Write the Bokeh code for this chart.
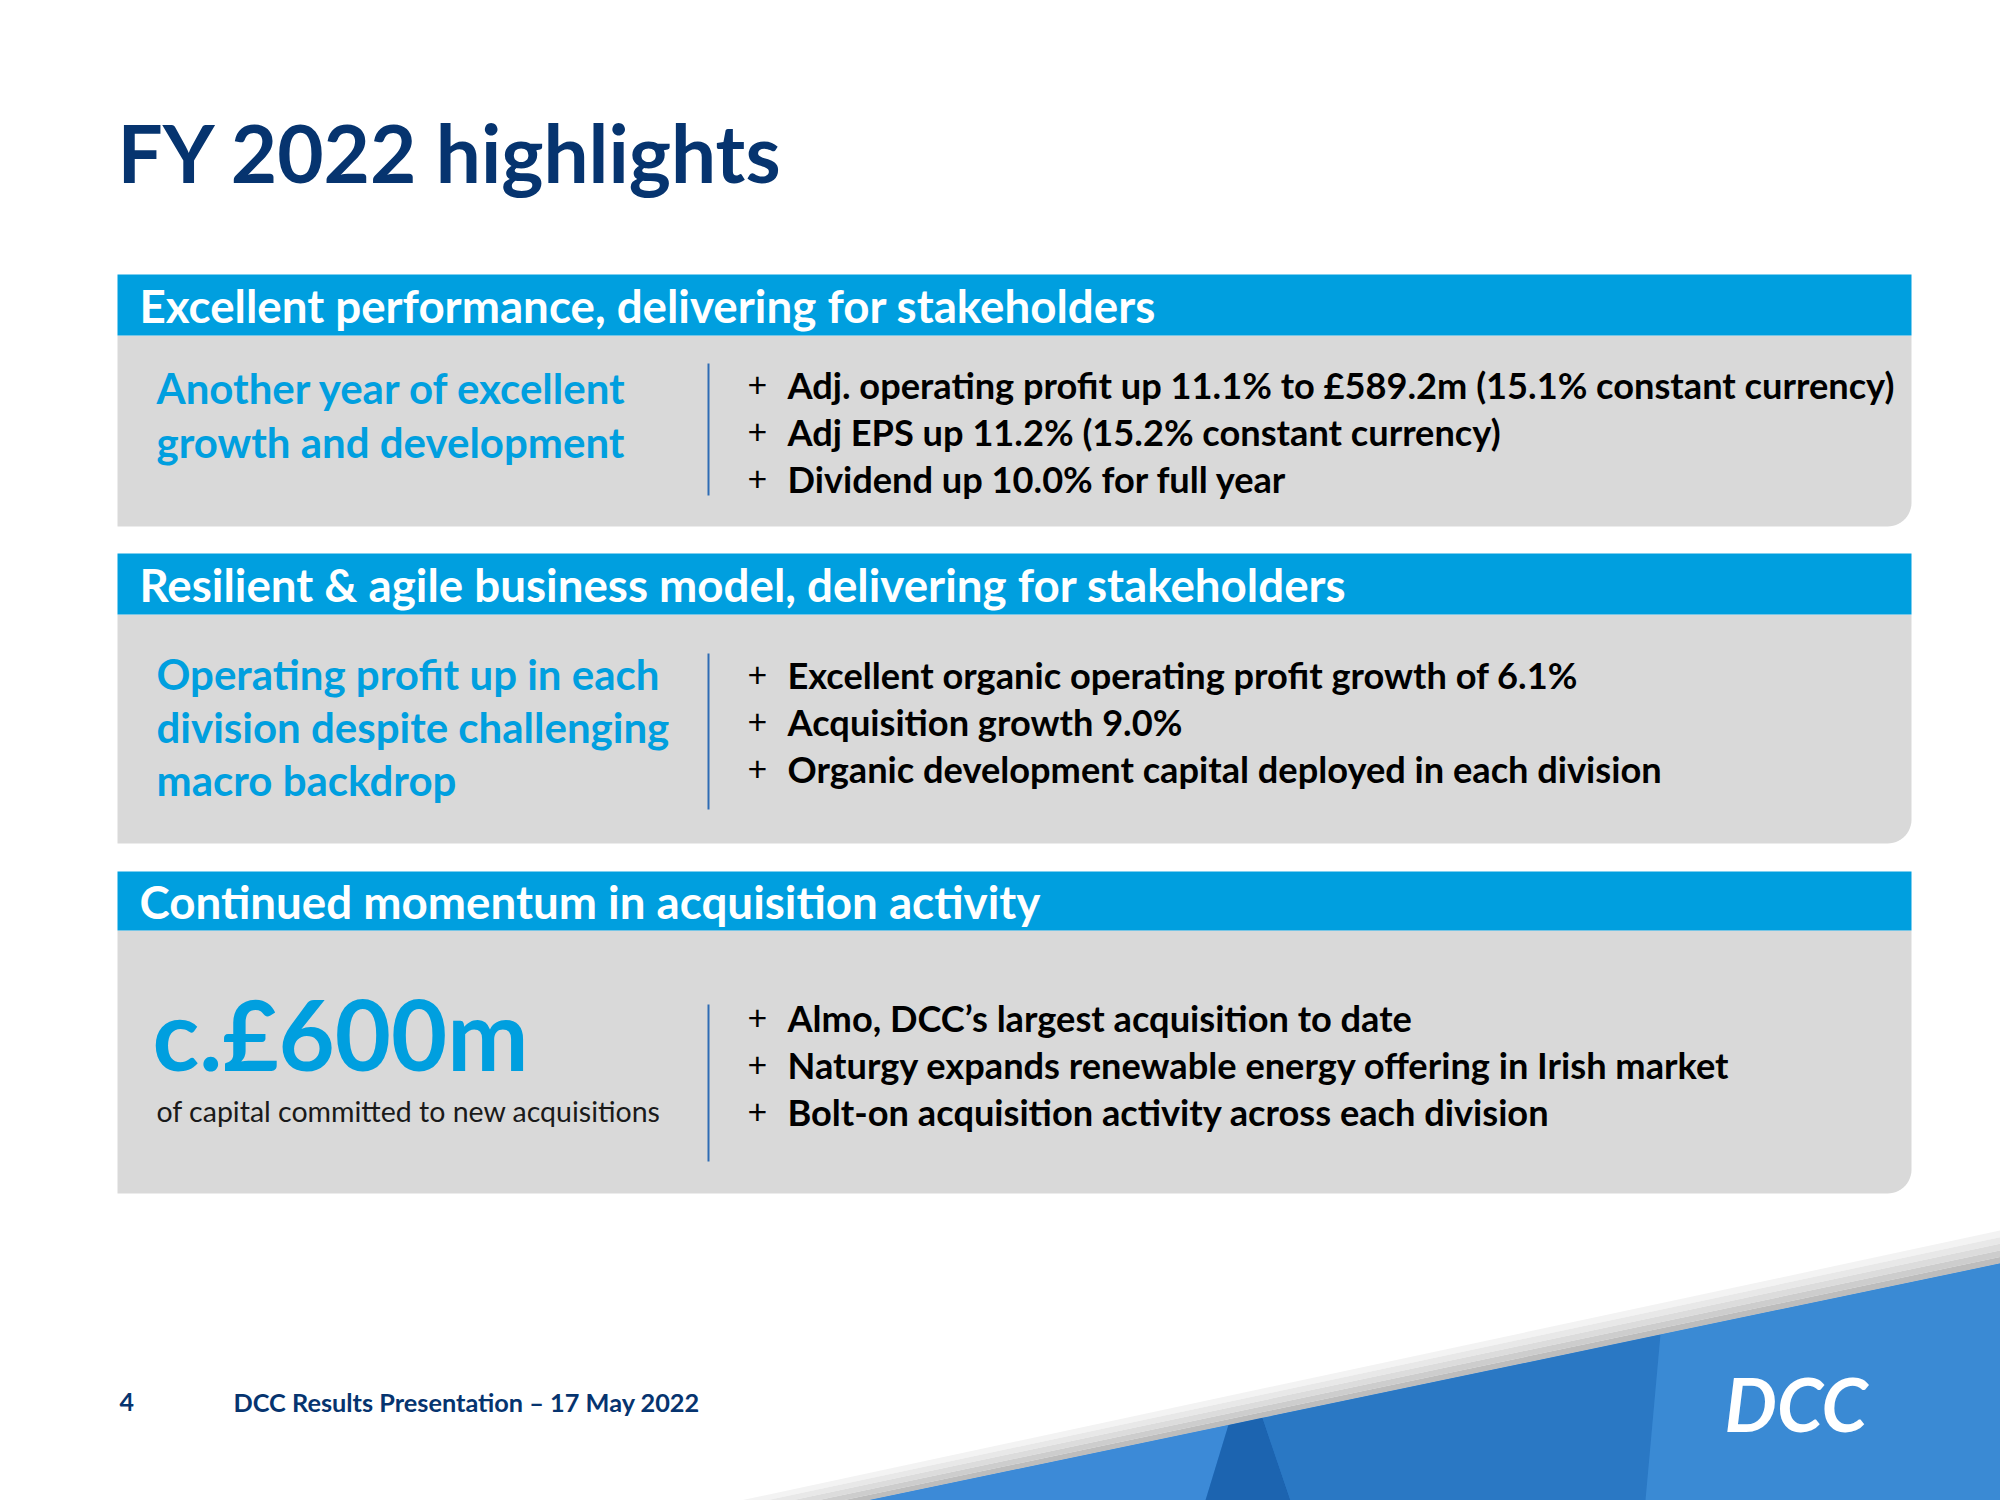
from bokeh.plotting import figure
from bokeh.models import Range1d
from bokeh.core.properties import value
from bokeh.embed import file_html
from bokeh.resources import INLINE
import numpy as np

# ---------------- content ----------------
title = "FY 2022 highlights"
section_titles = [
    "Excellent performance, delivering for stakeholders",
    "Resilient & agile business model, delivering for stakeholders",
    "Continued momentum in acquisition activity",
]
left_texts = [
    ["Another year of excellent", "growth and development"],
    ["Operating profit up in each", "division despite challenging", "macro backdrop"],
    [],
]
bullets = [
    ["Adj. operating profit up 11.1% to £589.2m (15.1% constant currency)",
     "Adj EPS up 11.2% (15.2% constant currency)",
     "Dividend up 10.0% for full year"],
    ["Excellent organic operating profit growth of 6.1%",
     "Acquisition growth 9.0%",
     "Organic development capital deployed in each division"],
    ["Almo, DCC\u2019s largest acquisition to date",
     "Naturgy expands renewable energy offering in Irish market",
     "Bolt-on acquisition activity across each division"],
]
big_figure = "c.£600m"
big_caption = "of capital committed to new acquisitions"
page_number = "4"
footer_text = "DCC Results Presentation \u2013 17 May 2022"
logo_text = "DCC"

# ---------------- style / layout ----------------
FONT = "Lato"
NAVY = "#06346f"
BLUE = "#009fdf"
GRAY = "#d9d9d9"
DIV = "#2e6cb4"

W, H = 2000, 1500
p = figure(width=W, height=H, x_range=Range1d(0, W), y_range=Range1d(H, 0),
           output_backend="svg", toolbar_location=None, min_border=0,
           x_axis_location=None, y_axis_location=None)
p.grid.visible = False
p.outline_line_color = None
p.background_fill_color = "white"
p.border_fill_color = "white"

BX0, BX1 = 117, 1911
sec_tops = [274, 553, 871]
sec_hdr_h = [61, 61, 59]
sec_bottoms = [526, 843, 1193]
left_centers = [[387, 441], [673, 726, 779], []]
bullet_centers = [[384, 431, 478], [674, 721, 768], [1017, 1064, 1111]]
div_spans = [(363, 495), (653, 809), (1004, 1161)]
R = 24

for i in range(3):
    top = sec_tops[i]
    hb = top + sec_hdr_h[i]
    bot = sec_bottoms[i]
    th = np.linspace(0, np.pi / 2, 14)
    xs = [BX0, BX1] + [float(v) for v in (BX1 - R + R * np.cos(th))] + [BX0]
    ys = [hb, hb] + [float(v) for v in (bot - R + R * np.sin(th))] + [bot]
    p.patch(xs, ys, fill_color=GRAY, line_color=None)
    p.quad(left=[BX0], right=[BX1], top=[top], bottom=[hb], fill_color=BLUE, line_color=None)
    p.text(x=[139], y=[top + sec_hdr_h[i] / 2], text=[section_titles[i]],
           text_font=value(FONT), text_font_style="bold", text_font_size="45.7px",
           text_color="white", text_baseline="middle", text_align="left")
    if left_texts[i]:
        p.text(x=[156] * len(left_texts[i]), y=left_centers[i], text=left_texts[i],
               text_font=value(FONT), text_font_style="bold", text_font_size="42px",
               text_color=BLUE, text_baseline="middle", text_align="left")
    d0, d1 = div_spans[i]
    p.segment(x0=[708], y0=[d0], x1=[708], y1=[d1], line_color=DIV, line_width=2)
    n = len(bullets[i])
    p.text(x=[747] * n, y=bullet_centers[i], text=["+"] * n,
           text_font=value(FONT), text_font_size="34px", text_color="black",
           text_baseline="middle", text_align="left")
    p.text(x=[787] * n, y=bullet_centers[i], text=bullets[i],
           text_font=value(FONT), text_font_style="bold", text_font_size="36.2px",
           text_color="black", text_baseline="middle", text_align="left")

# big figure + caption
p.text(x=[152], y=[1033], text=[big_figure], text_font=value(FONT), text_font_style="bold",
       text_font_size="97px", text_color=BLUE, text_baseline="middle", text_align="left")
p.text(x=[156], y=[1110], text=[big_caption], text_font=value(FONT),
       text_font_size="28.5px", text_color="#1a1a1a", text_baseline="middle", text_align="left")

# title
p.text(x=[117], y=[151], text=[title], text_font=value(FONT), text_font_style="bold",
       text_font_size="80px", text_color=NAVY, text_baseline="middle", text_align="left")

# bottom-right decoration
def edge(x, x0, y0, x1, y1):
    return y0 + (y1 - y0) * (x - x0) / (x1 - x0)

# light gray band (gradient in strips) above the blue wedge
top_l = (740, 1500, 2000, 1230)
blu_l = (867, 1500, 2000, 1263)
band_cols = ["#f3f3f3", "#e8e8e8", "#dcdcdc", "#cdcdcd", "#bdbdbd"]
nb = len(band_cols)
for k, col in enumerate(band_cols):
    t0, t1 = k / nb, (k + 1) / nb
    ax0 = top_l[0] + (blu_l[0] - top_l[0]) * t0
    ax1 = top_l[0] + (blu_l[0] - top_l[0]) * t1
    ay0 = top_l[3] + (blu_l[3] - top_l[3]) * t0
    ay1 = top_l[3] + (blu_l[3] - top_l[3]) * t1
    p.patch([ax0, 2000, 2000, ax1], [1500, ay0, ay1, 1500], fill_color=col, line_color=None)

p.patch([867, 2000, 2000], [1500, 1263, 1500], fill_color="#2c7ac8", line_color=None)
ex = lambda x: edge(x, 867, 1500, 2000, 1263)
p.patch([867, 1228, 1205], [1500, ex(1228), 1500], fill_color="#3c8ad7", line_color=None)
p.patch([1205, 1290, 1262, 1228], [1500, 1500, ex(1262), ex(1228)], fill_color="#1c64b0", line_color=None)
p.patch([1290, 1645, 1660, 1262], [1500, 1500, ex(1660), ex(1262)], fill_color="#2a78c4", line_color=None)
p.patch([1645, 2000, 2000, 1660], [1500, 1500, 1263, ex(1660)], fill_color="#3a8ad4", line_color=None)
p.text(x=[1724], y=[1403], text=[logo_text], text_font=value(FONT), text_font_style="bold italic",
       text_font_size="74px", text_color="white", text_baseline="middle", text_align="left")

# footer
p.text(x=[119], y=[1401], text=[page_number], text_font=value(FONT), text_font_style="bold",
       text_font_size="25px", text_color=NAVY, text_baseline="middle", text_align="left")
p.text(x=[233], y=[1401], text=[footer_text], text_font=value(FONT), text_font_style="bold",
       text_font_size="25.3px", text_color=NAVY, text_baseline="middle", text_align="left")

open("out.html", "w").write(file_html(p, INLINE))
